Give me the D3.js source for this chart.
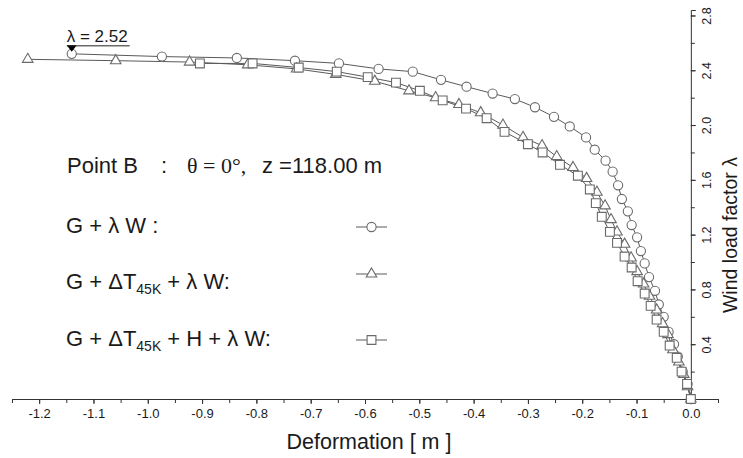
<!DOCTYPE html>
<html>
<head>
<meta charset="utf-8">
<script src="https://cdn.jsdelivr.net/npm/d3@7"></script>
<style>
  html, body { margin: 0; padding: 0; background: #fff; }
  svg { display: block; }
  text { font-family: "Liberation Sans", Arial, Helvetica, sans-serif; fill: #1a1a1a; }
</style>
</head>
<body>
<svg id="chart" width="743" height="458"></svg>
<script>
// Load path of Point B (theta = 0 deg, z = 118.00 m): deformation [m] vs wind load factor
const gwDeform = [-1.140, -0.974, -0.836, -0.729, -0.648, -0.575, -0.512, -0.460, -0.413, -0.365,
  -0.324, -0.287, -0.252, -0.223, -0.193, -0.177, -0.157, -0.144, -0.134, -0.127,
  -0.116, -0.109, -0.099, -0.092, -0.085, -0.077, -0.066, -0.059, -0.050, -0.041,
  -0.031, -0.024, -0.015, -0.006, 0.000];
const gwLambda = [2.52, 2.50, 2.49, 2.47, 2.45, 2.41, 2.39, 2.33, 2.28, 2.23,
  2.19, 2.13, 2.06, 1.99, 1.91, 1.82, 1.74, 1.66, 1.56, 1.46,
  1.37, 1.27, 1.18, 1.08, 0.99, 0.89, 0.79, 0.69, 0.60, 0.49,
  0.40, 0.31, 0.20, 0.11, 0.00];

const gtwDeform = [-1.221, -1.059, -0.923, -0.816, -0.726, -0.654, -0.582, -0.519, -0.470, -0.427,
  -0.387, -0.346, -0.309, -0.274, -0.247, -0.217, -0.192, -0.173, -0.158, -0.147,
  -0.136, -0.122, -0.110, -0.099, -0.087, -0.076, -0.063, -0.052, -0.042, -0.033,
  -0.022, -0.013, -0.006, 0.000];
const gtwLambda = [2.48, 2.47, 2.46, 2.44, 2.41, 2.37, 2.32, 2.25, 2.20, 2.15,
  2.09, 2.00, 1.91, 1.85, 1.77, 1.69, 1.61, 1.51, 1.41, 1.31,
  1.22, 1.13, 1.03, 0.93, 0.84, 0.75, 0.65, 0.55, 0.47, 0.36,
  0.27, 0.18, 0.09, 0.00];

const gthwDeform = [-0.904, -0.807, -0.722, -0.652, -0.595, -0.543, -0.499, -0.457, -0.414, -0.376,
  -0.343, -0.300, -0.273, -0.241, -0.208, -0.186, -0.175, -0.164, -0.149, -0.136,
  -0.122, -0.109, -0.098, -0.085, -0.074, -0.063, -0.050, -0.039, -0.026, -0.017,
  -0.007, 0.000];
const gthwLambda = [2.45, 2.45, 2.42, 2.39, 2.35, 2.31, 2.25, 2.18, 2.12, 2.05,
  1.95, 1.86, 1.80, 1.71, 1.63, 1.53, 1.43, 1.33, 1.22, 1.14,
  1.04, 0.96, 0.86, 0.77, 0.68, 0.58, 0.49, 0.39, 0.30, 0.20,
  0.11, 0.00];

const xTickValues = [-1.2, -1.1, -1.0, -0.9, -0.8, -0.7, -0.6, -0.5, -0.4, -0.3, -0.2, -0.1, 0.0];
const yTickValues = [0.4, 0.8, 1.2, 1.6, 2.0, 2.4, 2.8];
const peakLabel = "λ = 2.52";

const svg = d3.select("#chart");
const lineColor = "#5a5a5a";
const markColor = "#6a6a6a";

const x = d3.scaleLinear().domain([-1.25, 0.05]).range([12, 718]);
const y = d3.scaleLinear().domain([0, 2.84]).range([399, 10]);

// Bottom axis: labelled ticks every 0.1, minor ticks in between
const xMinor = d3.range(-1.25, 0.0501, 0.05).map(v => +v.toFixed(2));
svg.append("g")
  .attr("transform", `translate(0,${y(0)})`)
  .call(d3.axisBottom(x).tickValues(xMinor).tickSize(4).tickFormat(""))
  .call(g => g.select(".domain").attr("stroke", "#333"))
  .call(g => g.selectAll(".tick line").attr("stroke", "#333"));
svg.append("g")
  .attr("transform", `translate(0,${y(0)})`)
  .call(d3.axisBottom(x).tickValues(xTickValues).tickSize(5).tickSizeOuter(0).tickPadding(5)
    .tickFormat(d3.format(".1f")))
  .call(g => g.select(".domain").remove())
  .call(g => g.selectAll(".tick line").attr("stroke", "#333"))
  .call(g => g.selectAll(".tick text").attr("font-size", 13)
    .style("font-family", "'Liberation Sans', Arial, sans-serif").attr("fill", "#222")
    .text(d => d3.format(".1f")(d).replace("−", "-")));

// Vertical axis at zero deformation, labels rotated
const yMinor = d3.range(0.2, 2.81, 0.2).map(v => +v.toFixed(1));
svg.append("g")
  .attr("transform", `translate(${x(0)},0)`)
  .call(d3.axisRight(y).tickValues(yMinor).tickSize(4).tickSizeOuter(5).tickFormat(""))
  .call(g => g.select(".domain").attr("stroke", "#333"))
  .call(g => g.selectAll(".tick line").attr("stroke", "#333"));
const yAx = svg.append("g")
  .attr("transform", `translate(${x(0)},0)`)
  .call(d3.axisRight(y).tickValues(yTickValues).tickSize(5).tickFormat(d3.format(".1f")))
  .call(g => g.select(".domain").remove())
  .call(g => g.selectAll(".tick line").attr("stroke", "#333"));
yAx.selectAll(".tick text")
  .attr("font-size", 12.5)
  .style("font-family", "'Liberation Sans', Arial, sans-serif")
  .attr("fill", "#222")
  .attr("x", 0).attr("dy", null)
  .attr("text-anchor", "middle")
  .attr("transform", "translate(16,0) rotate(-90)")
  .attr("dominant-baseline", "central");

// Axis titles
svg.append("text")
  .attr("x", 369).attr("y", 449)
  .attr("text-anchor", "middle")
  .attr("font-size", 21.5)
  .text("Deformation [ m ]");
svg.append("text")
  .attr("transform", "translate(737,235) rotate(-90)")
  .attr("text-anchor", "middle")
  .attr("font-size", 19.5)
  .text("Wind load factor λ");

// Series
const series = [
  { xs: gwDeform, ys: gwLambda, shape: "circle" },
  { xs: gtwDeform, ys: gtwLambda, shape: "triangle" },
  { xs: gthwDeform, ys: gthwLambda, shape: "square" }
];
const line = d3.line().x(d => x(d[0])).y(d => y(d[1]));

function drawMark(g, shape, cx, cy) {
  if (shape === "circle") {
    g.append("circle").attr("cx", cx).attr("cy", cy).attr("r", 4.6)
      .attr("fill", "#fff").attr("stroke", markColor).attr("stroke-width", 1.1);
  } else if (shape === "triangle") {
    g.append("path")
      .attr("d", d3.symbol(d3.symbolTriangle, 48)())
      .attr("transform", `translate(${cx},${cy})`)
      .attr("fill", "#fff").attr("stroke", markColor).attr("stroke-width", 1.1);
  } else {
    g.append("path")
      .attr("d", d3.symbol(d3.symbolSquare, 78)())
      .attr("transform", `translate(${cx},${cy})`)
      .attr("fill", "#fff").attr("stroke", markColor).attr("stroke-width", 1.1);
  }
}

series.forEach(s => {
  const pts = s.xs.map((v, i) => [v, s.ys[i]]);
  svg.append("path").datum(pts)
    .attr("d", line).attr("fill", "none")
    .attr("stroke", lineColor).attr("stroke-width", 1);
});
series.forEach(s => {
  const g = svg.append("g");
  s.xs.forEach((v, i) => drawMark(g, s.shape, x(v), y(s.ys[i])));
});

// Peak annotation on the G + λW path
const peakX = x(gwDeform[0]), peakY = y(gwLambda[0]);
svg.append("path")
  .attr("d", `M${peakX - 5},${peakY - 8.5} L${peakX + 5},${peakY - 8.5} L${peakX},${peakY - 2} Z`)
  .attr("fill", "#000");
svg.append("line")
  .attr("x1", peakX - 5).attr("x2", peakX + 58)
  .attr("y1", peakY - 8).attr("y2", peakY - 8)
  .attr("stroke", "#222").attr("stroke-width", 1);
svg.append("text")
  .attr("x", peakX - 5).attr("y", peakY - 12)
  .attr("font-size", 17)
  .text(peakLabel);

// Legend block
const fs = 22;
const head = svg.append("text").attr("y", 173).attr("font-size", fs);
head.append("tspan").attr("x", 67).text("Point B");
head.append("tspan").attr("x", 161).text(":");
head.append("tspan").attr("x", 187)
  .style("font-family", "'Liberation Serif', 'Times New Roman', serif").text("θ = 0°,");
head.append("tspan").attr("x", 262).text("z =118.00 m");

const rows = [
  { y: 233, shape: "circle", sy: 227, parts: [["G + λ W :", false]] },
  { y: 289, shape: "triangle", sy: 274, parts: [["G + ΔT", false], ["45K", true], [" + λ W:", false]] },
  { y: 346, shape: "square", sy: 340, parts: [["G + ΔT", false], ["45K", true], [" + H + λ W:", false]] }
];
rows.forEach(r => {
  const t = svg.append("text").attr("x", 66).attr("y", r.y).attr("font-size", fs)
    .attr("xml:space", "preserve");
  r.parts.forEach(([txt, sub]) => {
    const sp = t.append("tspan").text(txt);
    if (sub) sp.attr("font-size", 14).attr("dy", 5);
    else if (t.selectAll("tspan").size() > 1) sp.attr("dy", -5);
  });
  const g = svg.append("g");
  g.append("line").attr("x1", 356).attr("x2", 387).attr("y1", r.sy).attr("y2", r.sy)
    .attr("stroke", lineColor).attr("stroke-width", 1);
  drawMark(g, r.shape, 371.5, r.sy);
});
</script>
</body>
</html>
